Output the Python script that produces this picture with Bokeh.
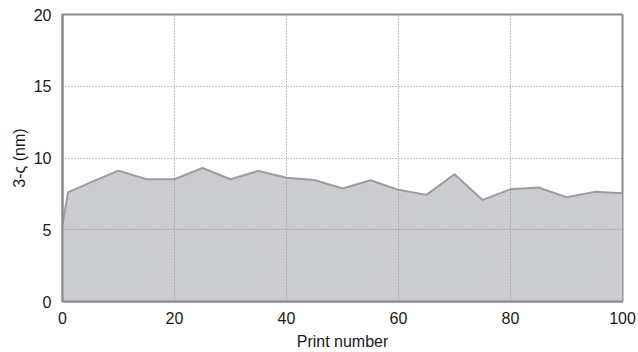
from bokeh.plotting import figure
from bokeh.models import Range1d, FixedTicker
from bokeh.embed import file_html
from bokeh.resources import INLINE

# Print-to-print 3-sigma variation (nm)
print_number = [0, 1, 5, 10, 15, 20, 25, 30, 35, 40, 45, 50, 55, 60, 65, 70, 75, 80, 85, 90, 95, 100]
three_sigma = [5.4, 7.6, 8.3, 9.12, 8.52, 8.52, 9.3, 8.52, 9.1, 8.63, 8.47, 7.87, 8.45, 7.78, 7.43, 8.87, 7.08, 7.82, 7.94, 7.27, 7.64, 7.55]

x_ticks = [0, 20, 40, 60, 80, 100]
y_ticks = [0, 5, 10, 15, 20]

FONT = "Liberation Sans"
AXIS_GRAY = "#8a8a8a"

p = figure(width=638, height=352, output_backend="svg", toolbar_location=None,
           x_range=Range1d(0, 100), y_range=Range1d(0, 20),
           min_border_left=62, min_border_right=16, min_border_top=14, min_border_bottom=50)

p.varea(x=print_number, y1=0, y2=three_sigma, fill_color="#cbcccf")
p.line(x=print_number, y=three_sigma, line_color="#9c9c9e", line_width=2)

p.xaxis.ticker = FixedTicker(ticks=x_ticks)
p.yaxis.ticker = FixedTicker(ticks=y_ticks)

for ax in (p.xaxis[0], p.yaxis[0]):
    ax.axis_line_color = AXIS_GRAY
    ax.axis_line_width = 2
    ax.major_tick_line_color = None
    ax.minor_tick_line_color = None
    ax.major_label_text_font = FONT
    ax.major_label_text_font_size = "16px"
    ax.major_label_text_color = "#1a1a1a"
    ax.axis_label_text_font = FONT
    ax.axis_label_text_font_size = "16px"
    ax.axis_label_text_font_style = "normal"
    ax.axis_label_text_color = "#1a1a1a"

p.xaxis.axis_label = "Print number"
p.yaxis.axis_label = "3-ς (nm)"
p.xaxis.major_label_standoff = 4
p.yaxis.major_label_standoff = 5
p.xaxis.axis_label_standoff = 6
p.yaxis.axis_label_standoff = 3

for g in (p.xgrid[0], p.ygrid[0]):
    g.grid_line_color = "#8c8c8c"
    g.grid_line_dash = "1 2"
    g.grid_line_width = 1
    g.level = "overlay"

p.outline_line_color = AXIS_GRAY
p.outline_line_width = 2
p.outline_line_alpha = 1
p.background_fill_color = "white"
p.border_fill_color = "white"

open("out.html", "w").write(file_html(p, INLINE))
